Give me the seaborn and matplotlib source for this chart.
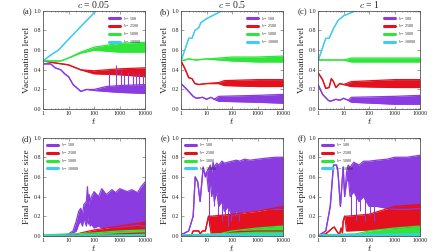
import numpy as np
import seaborn as sns
import matplotlib.pyplot as plt
from matplotlib.lines import Line2D

# ---- data (lo == hi where the curve is a plain line) ----
labels = ['$b$ = 500', '$b$ = 2500', '$b$ = 5000', '$b$ = 10000']
colors = ['#8A3CE0', '#E4101E', '#2EE63A', '#3CCDF2']
titles = ['$c$ = 0.05', '$c$ = 0.5', '$c$ = 1']
tags = ['(a)', '(b)', '(c)', '(d)', '(e)', '(f)']

# (a) c = 0.05, vaccination level
a_purple_t = [1, 2, 3, 5, 7, 10, 15, 25, 30, 50, 100, 300, 1000, 10000]
a_purple_lo = [0.46, 0.46, 0.42, 0.40, 0.36, 0.33, 0.25, 0.20, 0.18, 0.20, 0.19, 0.18, 0.17, 0.16]
a_purple_hi = [0.46, 0.46, 0.42, 0.40, 0.36, 0.33, 0.25, 0.20, 0.18, 0.20, 0.20, 0.23, 0.24, 0.25]
a_spike_t = [400, 720, 1140, 1540, 2080, 3220, 4400, 6000, 8100]
a_spike_y = [0.37, 0.45, 0.40, 0.35, 0.38, 0.37, 0.36, 0.37, 0.35]
a_red_t = [1, 3, 10, 30, 100, 1000, 10000]
a_red_lo = [0.49, 0.47, 0.45, 0.40, 0.36, 0.35, 0.33]
a_red_hi = [0.49, 0.47, 0.45, 0.40, 0.39, 0.41, 0.42]
a_green_t = [1, 5, 10, 30, 100, 1000, 10000]
a_green_lo = [0.49, 0.49, 0.52, 0.57, 0.60, 0.58, 0.58]
a_green_hi = [0.49, 0.49, 0.52, 0.58, 0.63, 0.67, 0.68]
a_cyan_t = [1, 2, 4, 10, 30, 120, 200]
a_cyan_v = [0.49, 0.55, 0.60, 0.71, 0.84, 1.00, 1.10]

# (b) c = 0.5
b_purple_t = [1, 1.7, 3, 4, 7, 10, 15, 20, 30, 1000, 10000]
b_purple_lo = [0.26, 0.20, 0.13, 0.11, 0.12, 0.10, 0.12, 0.10, 0.08, 0.07, 0.06]
b_purple_hi = [0.26, 0.20, 0.13, 0.11, 0.12, 0.10, 0.12, 0.10, 0.13, 0.14, 0.15]
b_red_t = [1, 1.5, 2, 2.7, 3.5, 5, 10, 30, 50, 1000, 10000]
b_red_lo = [0.49, 0.40, 0.32, 0.31, 0.26, 0.25, 0.26, 0.26, 0.24, 0.23, 0.23]
b_red_hi = [0.49, 0.40, 0.32, 0.31, 0.26, 0.25, 0.26, 0.27, 0.29, 0.30, 0.30]
b_green_t = [1, 2, 4, 10, 100, 1000, 10000]
b_green_lo = [0.49, 0.51, 0.50, 0.51, 0.49, 0.48, 0.48]
b_green_hi = [0.49, 0.51, 0.50, 0.51, 0.53, 0.53, 0.54]
b_cyan_t = [1, 1.5, 2, 2.7, 3.5, 5, 6, 10, 20, 40, 80]
b_cyan_v = [0.49, 0.62, 0.72, 0.72, 0.80, 0.83, 0.88, 0.92, 0.96, 1.00, 1.05]

# (c) c = 1
c_purple_t = [1, 1.5, 2.5, 3, 5, 7, 10, 15, 20, 1000, 10000]
c_purple_lo = [0.25, 0.15, 0.09, 0.08, 0.10, 0.09, 0.11, 0.09, 0.07, 0.05, 0.05]
c_purple_hi = [0.25, 0.15, 0.09, 0.08, 0.10, 0.09, 0.11, 0.09, 0.12, 0.13, 0.14]
c_red_t = [1, 1.5, 2, 2.7, 3.3, 4, 5, 7, 10, 20, 1000, 10000]
c_red_lo = [0.37, 0.30, 0.21, 0.22, 0.31, 0.28, 0.22, 0.26, 0.25, 0.23, 0.22, 0.22]
c_red_hi = [0.37, 0.30, 0.21, 0.22, 0.31, 0.28, 0.22, 0.26, 0.25, 0.28, 0.30, 0.30]
c_green_t = [1, 2, 10, 20, 1000, 10000]
c_green_lo = [0.50, 0.50, 0.50, 0.48, 0.48, 0.48]
c_green_hi = [0.50, 0.50, 0.50, 0.52, 0.52, 0.52]
c_cyan_t = [1, 2, 2.7, 4, 6, 10, 30, 60]
c_cyan_v = [0.49, 0.72, 0.72, 0.82, 0.90, 0.95, 1.00, 1.04]

# (d) c = 0.05, final epidemic size
d_purple_t = [1, 8, 10, 15, 20, 25, 30, 35, 40, 50, 55, 60, 65, 70, 80, 100,
              150, 200, 300, 500, 700, 1000, 2000, 3000, 5000, 7000, 10000]
d_purple_lo = [0.00, 0.00, 0.01, 0.03, 0.05, 0.12, 0.15, 0.10, 0.18, 0.10, 0.20, 0.12, 0.15, 0.10,
               0.12, 0.08, 0.10, 0.08, 0.09, 0.08, 0.09, 0.09, 0.10, 0.10, 0.11, 0.10, 0.10]
d_purple_hi = [0.00, 0.01, 0.02, 0.05, 0.15, 0.25, 0.28, 0.22, 0.32, 0.35, 0.50, 0.30, 0.42, 0.35,
               0.40, 0.45, 0.40, 0.48, 0.42, 0.47, 0.44, 0.48, 0.45, 0.47, 0.44, 0.50, 0.55]
d_dip_t = []
d_dip_y = []
d_red_t = [1, 20, 30, 100, 1000, 10000]
d_red_lo = [0.00, 0.00, 0.00, 0.00, 0.02, 0.03]
d_red_hi = [0.00, 0.01, 0.03, 0.06, 0.10, 0.14]
d_green_t = [1, 10, 100, 1000, 10000]
d_green_lo = [0.00, 0.00, 0.00, 0.00, 0.00]
d_green_hi = [0.01, 0.02, 0.03, 0.05, 0.06]
d_cyan_t = [1, 10000]
d_cyan_lo = [0.00, 0.00]
d_cyan_hi = [0.005, 0.01]

# (e) c = 0.5
e_purple_t = [1, 2, 3, 3.6, 4.5, 5.6, 7.4, 9, 10, 12, 14, 16, 18, 20, 25, 30, 40, 50, 70,
              100, 150, 200, 300, 500, 1000, 2000, 5000, 10000]
e_purple_lo = [0.01, 0.05, 0.20, 0.60, 0.55, 0.35, 0.70, 0.60, 0.65, 0.45, 0.55, 0.40, 0.50,
               0.35, 0.45, 0.30, 0.35, 0.25, 0.30, 0.20, 0.25, 0.22, 0.25, 0.25, 0.26, 0.27,
               0.27, 0.27]
e_purple_hi = [0.01, 0.05, 0.20, 0.60, 0.55, 0.35, 0.70, 0.60, 0.65, 0.68, 0.72, 0.65, 0.75,
               0.70, 0.74, 0.72, 0.76, 0.74, 0.75, 0.76, 0.77, 0.76, 0.78, 0.77, 0.78, 0.79,
               0.80, 0.80]
e_dip_t = [12, 20, 28, 40, 55, 70, 90, 130, 180]
e_dip_y = [0.10, 0.30, 0.20, 0.15, 0.20, 0.10, 0.15, 0.20, 0.15]
e_red_t = [1, 2.5, 3, 5, 5.6, 7, 9, 12, 15, 100, 1000, 10000]
e_red_lo = [0.00, 0.00, 0.05, 0.05, 0.02, 0.05, 0.05, 0.20, 0.03, 0.04, 0.05, 0.05]
e_red_hi = [0.00, 0.00, 0.05, 0.05, 0.02, 0.05, 0.05, 0.20, 0.20, 0.22, 0.25, 0.30]
e_green_t = [1, 30, 100, 1000, 10000]
e_green_lo = [0.00, 0.00, 0.00, 0.00, 0.00]
e_green_hi = [0.01, 0.02, 0.05, 0.08, 0.10]
e_cyan_t = [1, 10000]
e_cyan_lo = [0.00, 0.00]
e_cyan_hi = [0.01, 0.02]

# (f) c = 1
f_purple_t = [1, 2, 3, 4, 5.3, 6, 7.5, 9.6, 11, 13, 15, 18, 25, 40, 60, 100, 200, 500,
              1000, 3000, 10000]
f_purple_lo = [0.00, 0.05, 0.30, 0.72, 0.72, 0.65, 0.30, 0.70, 0.40, 0.55, 0.60, 0.40, 0.45,
               0.35, 0.40, 0.30, 0.30, 0.28, 0.27, 0.27, 0.28]
f_purple_hi = [0.00, 0.05, 0.30, 0.72, 0.72, 0.65, 0.30, 0.70, 0.40, 0.65, 0.72, 0.70, 0.75,
               0.72, 0.76, 0.76, 0.77, 0.78, 0.80, 0.80, 0.82]
f_dip_t = [20, 30, 45, 70, 110, 160]
f_dip_y = [0.20, 0.15, 0.25, 0.15, 0.20, 0.15]
f_red_t = [1, 2, 3.7, 4.3, 5.3, 6, 7, 8, 9, 9.6, 11, 13, 100, 1000, 10000]
f_red_lo = [0.00, 0.02, 0.08, 0.09, 0.05, 0.03, 0.02, 0.08, 0.03, 0.15, 0.20, 0.05, 0.06, 0.08, 0.10]
f_red_hi = [0.00, 0.02, 0.08, 0.09, 0.05, 0.03, 0.02, 0.08, 0.03, 0.15, 0.20, 0.20, 0.22, 0.30, 0.32]
f_green_t = [1, 30, 100, 1000, 10000]
f_green_lo = [0.00, 0.00, 0.00, 0.00, 0.00]
f_green_hi = [0.01, 0.02, 0.05, 0.08, 0.10]
f_cyan_t = [1, 10000]
f_cyan_lo = [0.00, 0.00]
f_cyan_hi = [0.01, 0.02]

sns.set_style('ticks')
plt.rcParams['font.family'] = ['Liberation Serif', 'DejaVu Serif']
plt.rcParams['mathtext.fontset'] = 'cm'

fig = plt.figure(figsize=(4.48, 2.52), dpi=100)
lefts = [0.096, 0.404, 0.710]
bottoms = [0.567, 0.064]
w, h = 0.228, 0.390


def band(ax, t, lo, hi, color):
    sns.lineplot(x=t, y=lo, ax=ax, color=color, lw=0.9, sort=False)
    sns.lineplot(x=t, y=hi, ax=ax, color=color, lw=0.9, sort=False)
    ax.fill_between(t, lo, hi, color=color, lw=0)


top = [
    [(a_purple_t, a_purple_lo, a_purple_hi), (a_red_t, a_red_lo, a_red_hi),
     (a_green_t, a_green_lo, a_green_hi), (a_cyan_t, a_cyan_v, a_cyan_v)],
    [(b_purple_t, b_purple_lo, b_purple_hi), (b_red_t, b_red_lo, b_red_hi),
     (b_green_t, b_green_lo, b_green_hi), (b_cyan_t, b_cyan_v, b_cyan_v)],
    [(c_purple_t, c_purple_lo, c_purple_hi), (c_red_t, c_red_lo, c_red_hi),
     (c_green_t, c_green_lo, c_green_hi), (c_cyan_t, c_cyan_v, c_cyan_v)],
]
bottom = [
    [(d_purple_t, d_purple_lo, d_purple_hi), (d_red_t, d_red_lo, d_red_hi),
     (d_green_t, d_green_lo, d_green_hi), (d_cyan_t, d_cyan_lo, d_cyan_hi)],
    [(e_purple_t, e_purple_lo, e_purple_hi), (e_red_t, e_red_lo, e_red_hi),
     (e_green_t, e_green_lo, e_green_hi), (e_cyan_t, e_cyan_lo, e_cyan_hi)],
    [(f_purple_t, f_purple_lo, f_purple_hi), (f_red_t, f_red_lo, f_red_hi),
     (f_green_t, f_green_lo, f_green_hi), (f_cyan_t, f_cyan_lo, f_cyan_hi)],
]
dips = [(d_dip_t, d_dip_y), (e_dip_t, e_dip_y), (f_dip_t, f_dip_y)]

for row in range(2):
    for col in range(3):
        ax = fig.add_axes([lefts[col], bottoms[row], w, h])
        series = top[col] if row == 0 else bottom[col]
        for i, ((t, lo, hi), c) in enumerate(zip(series, colors)):
            band(ax, t, lo, hi, c)
            if i == 0 and row == 1 and dips[col][0]:
                ax.vlines(dips[col][0], dips[col][1], 0.6, color=c, lw=0.8)
        if row == 0 and col == 0:
            ax.vlines(a_spike_t, 0.2, a_spike_y, color=colors[0], lw=0.8)
        ax.set_xscale('log')
        ax.set_xlim(1, 10000)
        ax.set_ylim(0, 1.0)
        ax.set_xticks([1, 10, 100, 1000, 10000])
        ax.set_xticklabels(['1', '10', '100', '1000', '10000'])
        ax.set_yticks([0, 0.2, 0.4, 0.6, 0.8, 1.0])
        ax.set_yticklabels(['0.0', '0.2', '0.4', '0.6', '0.8', '1.0'])
        ax.tick_params(which='both', direction='in', top=True, right=True,
                       labelsize=4.3, pad=1.5, width=0.4, color='#555555')
        ax.tick_params(which='major', length=2)
        ax.tick_params(which='minor', length=1)
        for s in ax.spines.values():
            s.set_linewidth(0.6)
            s.set_color('#555555')
        ax.set_xlabel('$t$', fontsize=7, labelpad=0)
        ax.set_ylabel('Vaccination level' if row == 0 else 'Final epidemic size',
                      fontsize=6.8, labelpad=2)
        if row == 0:
            ax.set_title(titles[col], fontsize=7, pad=2)
        ax.text(-0.11, 0.985, tags[row * 3 + col], transform=ax.transAxes,
                fontsize=6.3, ha='right', va='center')
        handles = [Line2D([], [], color=c, lw=2.2) for c in colors]
        ax.legend(handles, labels, loc='upper right' if row == 0 else 'upper left',
                  fontsize=3.0, frameon=False, handlelength=2.6, handletextpad=0.8,
                  labelspacing=0.2, borderaxespad=0.5)

fig.savefig('out.png', dpi=100)
